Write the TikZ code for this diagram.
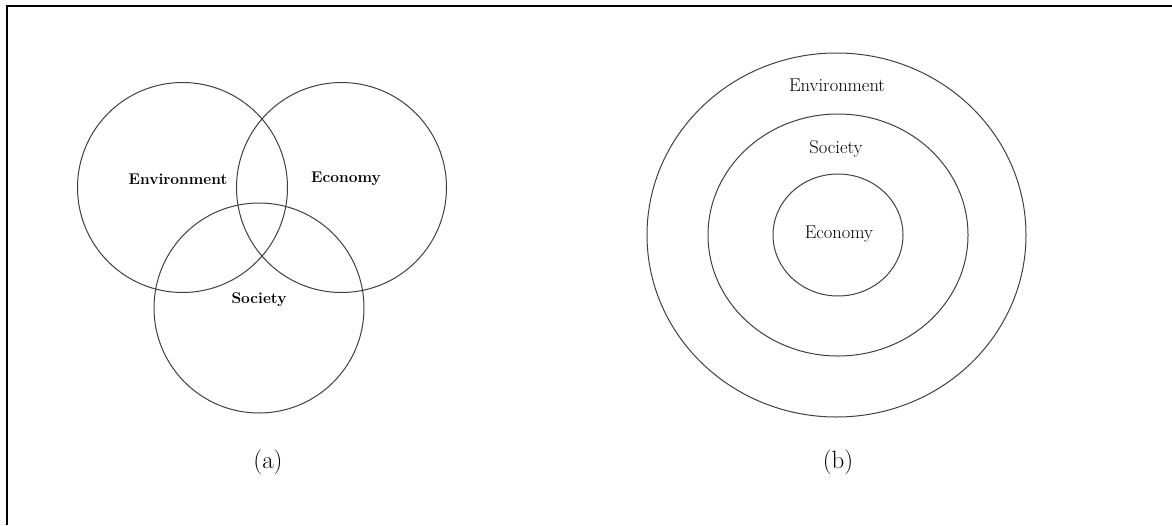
\documentclass[tikz,border=0pt]{standalone}
\usetikzlibrary{shapes.geometric}
\tikzset{
  venn/.style={draw=black!75, line width=1pt, circle, minimum size=210pt, inner sep=0pt},
  ring/.style={draw=black!75, line width=1pt, ellipse, inner sep=0pt},
  vennlabel/.style={font=\fontsize{15.5}{18}\selectfont\bfseries},
  ringlabel/.style={font=\fontsize{18.5}{22}\selectfont},
  sublabel/.style={font=\fontsize{25}{30}\selectfont}
}
\begin{document}
\begin{tikzpicture}[x=1pt,y=-1pt]
\useasboundingbox (0,0) rectangle (1172,525);
\draw[line width=2.2pt] (7,525) -- (7,6) -- (1172,6);
\node[venn] (env) at (182.5,187.5) {};
\node[venn] (eco) at (341.5,187.5) {};
\node[venn] (soc) at (259,308) {};
\node[vennlabel] (envlab) at (178,179) {Environment};
\node[vennlabel] (ecolab) at (346,179) {Economy};
\node[vennlabel] (soclab) at (259,300) {Society};
\node[ring, minimum width=379pt, minimum height=364pt] (outer) at (836.5,235) {};
\node[ring, minimum width=260pt, minimum height=242pt] (middle) at (838,235) {};
\node[ring, minimum width=130pt, minimum height=122pt] (inner) at (838,235) {};
\node[ringlabel] (outerlab) at (837,85) {Environment};
\node[ringlabel] (middlelab) at (836,149) {Society};
\node[ringlabel] (innerlab) at (839,234) {Economy};
\node[sublabel] (a) at (268,462) {(a)};
\node[sublabel] (b) at (838,462) {(b)};
\end{tikzpicture}
\end{document}
